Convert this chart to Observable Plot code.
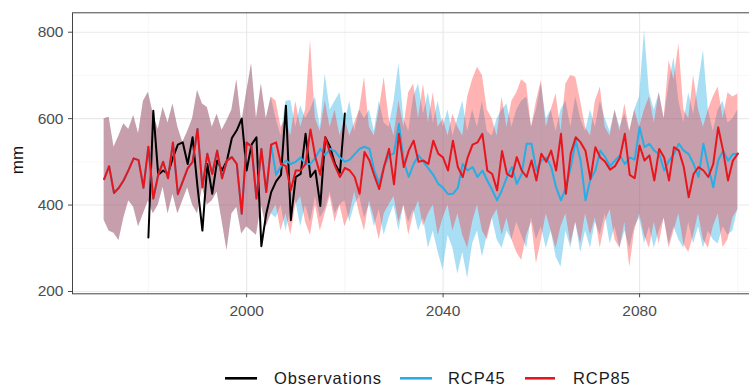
<!DOCTYPE html>
<html><head><meta charset="utf-8">
<script src="https://cdn.jsdelivr.net/npm/d3@7"></script>
<script src="https://cdn.jsdelivr.net/npm/@observablehq/plot@0.6"></script>
<style>
html,body{margin:0;padding:0;background:#fff;overflow:hidden;width:749px;height:385px;}
#wrap{position:relative;width:749px;height:385px;overflow:hidden;font-family:"Liberation Sans",Arial,sans-serif;}
#chart{position:absolute;left:0;top:0;width:775px;}
#chart svg{max-width:none !important;width:775px !important;height:340px !important;}
#legend{position:absolute;left:0;top:0;}
</style></head>
<body><div id="wrap"><div id="chart"></div><svg id="legend" width="749" height="385"></svg></div>
<script>
// ---- data ----
const histStart = 1971;           // shared historical run 1971-2005
const futStart = 2006;            // scenario runs 2006-2100
const obsStart = 1980;            // observations 1980-2020

const histMean = [460,490,428,440,458,482,508,504,440,535,415,470,500,462,545,425,455,485,500,576,441,519,472,526,462,503,511,495,380,545,535,415,530,430,540];
const histHi   = [600,603,534,560,588,575,607,565,640,661,610,575,626,590,634,580,545,570,600,665,634,626,580,610,573,595,620,690,590,660,727,600,680,600,650];
const histLo   = [365,340,335,318,370,410,395,350,380,410,380,400,441,380,425,380,410,440,400,380,440,400,410,430,364,295,380,395,333,350,340,330,400,350,380];

const rcp85Mean = [
  545,495,490,435,480,480,495,575,510,470,
  557,520,490,465,486,480,465,426,523,503,
  468,437,490,530,448,565,488,526,549,500,
  503,495,549,519,510,480,549,488,465,510,
  540,545,565,480,472,434,525,472,465,511,
  480,465,503,457,519,500,526,480,565,426,
  520,557,545,525,460,534,510,500,482,490,
  510,565,470,462,538,503,515,457,530,510,
  457,534,526,488,418,472,488,480,465,495,
  580,526,457,503,519];
const rcp85Hi = [
  640,580,600,560,640,580,620,781,600,570,
  640,580,620,560,600,560,590,620,696,580,
  560,620,696,600,560,640,580,660,680,600,
  680,590,660,580,600,560,610,580,560,650,
  690,719,700,620,600,560,650,580,640,660,
  690,680,580,640,688,580,620,657,570,680,
  700,696,640,580,560,640,673,580,560,620,
  570,634,570,620,580,620,650,590,660,600,
  734,690,773,620,600,700,620,580,620,650,
  673,600,660,650,657];
const rcp85Lo = [
  400,340,380,330,400,420,360,330,400,340,
  380,420,360,400,350,380,430,380,340,410,
  370,320,380,400,420,360,400,330,380,410,
  350,380,400,330,370,400,340,380,330,300,
  360,400,340,320,370,390,330,370,320,290,
  272,330,360,264,320,380,340,300,350,380,
  310,360,310,380,330,370,300,360,390,320,
  300,360,256,340,380,330,300,360,310,370,
  300,340,380,310,290,330,380,320,300,350,
  380,302,320,370,390];

const rcp45Mean = [
  470,490,503,495,500,510,495,495,510,530,
  515,530,525,510,500,505,518,530,535,530,
  480,450,490,515,520,588,500,465,495,515,
  500,485,470,449,440,425,426,440,495,480,
  488,465,480,457,435,411,435,465,488,449,
  472,542,542,480,503,510,488,441,411,441,
  488,549,503,411,460,480,526,511,490,503,
  515,495,510,505,580,534,542,526,518,480,
  503,518,542,526,518,495,465,542,488,441,
  503,526,503,518,519];
const rcp45Hi = [
  600,560,640,642,580,630,600,620,650,580,
  703,620,640,660,590,640,570,620,600,620,
  570,640,590,580,640,727,600,570,650,680,
  610,660,590,640,580,620,560,600,640,570,
  620,580,640,570,560,600,620,634,580,620,
  640,650,580,620,680,600,620,570,620,640,
  580,650,600,570,620,580,640,600,570,620,
  580,610,570,620,650,804,660,620,660,600,
  680,742,640,590,660,610,680,758,620,570,
  620,640,590,600,620];
const rcp45Lo = [
  370,400,340,390,410,350,400,360,420,370,
  390,430,380,400,410,360,400,420,370,400,
  350,390,330,370,400,340,400,360,390,340,
  370,300,340,290,250,330,300,240,290,230,
  310,340,280,330,370,320,300,340,320,360,
  330,300,370,320,350,300,340,280,256,340,
  300,360,290,340,300,360,330,380,310,350,
  300,340,300,350,370,310,350,300,340,370,
  310,350,320,300,360,310,350,300,340,320,
  310,350,330,340,390];

const obsValues = [325,618,470,480,472,510,540,545,495,557,442,341,495,426,503,480,503,555,573,600,480,540,557,305,380,430,455,470,630,365,465,472,565,465,480,398,557,534,495,475,612];

const xTicks = [2000, 2040, 2080];
const xMinor = [1980, 2020, 2060, 2100];
const yTicks = [200, 400, 600, 800];
const yMinor = [300, 500, 700];
const seriesNames = ["Observations", "RCP45", "RCP85"];
const seriesColors = ["#000000", "#27aee6", "#e8161c"];

// ---- build tables ----
function band(mean, lo, hi, start) {
  return mean.map((v, i) => ({year: start + i, mean: v, lo: lo[i], hi: hi[i]}));
}
const hist = band(histMean, histLo, histHi, histStart);
const r45 = hist.concat(band(rcp45Mean, rcp45Lo, rcp45Hi, futStart));
const r85 = hist.concat(band(rcp85Mean, rcp85Lo, rcp85Hi, futStart));
const obs = obsValues.map((v, i) => ({year: obsStart + i, value: v}));

const W = 775, H = 340;
const chart = Plot.plot({
  width: W, height: H,
  marginLeft: 72, marginRight: 6, marginTop: 12.3, marginBottom: 46.7,
  style: {fontFamily: '"Liberation Sans", Arial, sans-serif', fontSize: "15.5px", color: "#4d4d4d", background: "#fff"},
  x: {domain: [1964.55, 2106.45]},
  y: {domain: [194.7, 844.9]},
  marks: [
    Plot.ruleY(yMinor, {stroke: "#f3f3f3", strokeWidth: 0.7}),
    Plot.ruleX(xMinor, {stroke: "#f3f3f3", strokeWidth: 0.7}),
    Plot.ruleY(yTicks, {stroke: "#e9e9e9", strokeWidth: 1.1}),
    Plot.ruleX(xTicks, {stroke: "#e9e9e9", strokeWidth: 1.1}),
    Plot.areaY(r45, {x: "year", y1: "lo", y2: "hi", fill: seriesColors[1], fillOpacity: 0.4}),
    Plot.areaY(r85, {x: "year", y1: "lo", y2: "hi", fill: "#ff1f1f", fillOpacity: 0.34}),
    Plot.lineY(obs, {x: "year", y: "value", stroke: seriesColors[0], strokeWidth: 2}),
    Plot.lineY(r45, {x: "year", y: "mean", stroke: seriesColors[1], strokeWidth: 2}),
    Plot.lineY(r85, {x: "year", y: "mean", stroke: seriesColors[2], strokeWidth: 2}),
    Plot.frame({stroke: "#444", strokeWidth: 1}),
    Plot.axisX({ticks: xTicks, tickFormat: d => String(d), tickSize: 4, tickPadding: 7, label: null}),
    Plot.axisY({ticks: yTicks, tickSize: 4, tickPadding: 5, label: null})
  ]
});
chart.style.maxWidth = "none";
document.getElementById("chart").appendChild(chart);

// y-axis title
d3.select(chart).append("text")
  .attr("transform", "translate(23,160) rotate(-90)")
  .attr("text-anchor", "middle")
  .attr("fill", "#111")
  .style("font-size", "17px")
  .style("font-family", '"Liberation Sans", Arial, sans-serif')
  .text("mm");

// legend
const leg = d3.select("#legend");
const legLayout = [
  {x1: 225, x2: 257, tx: 274},
  {x1: 400, x2: 432, tx: 448},
  {x1: 525, x2: 555, tx: 573}
];
seriesNames.forEach((name, i) => {
  const L = legLayout[i];
  leg.append("line").attr("x1", L.x1).attr("x2", L.x2).attr("y1", 378.3).attr("y2", 378.3)
    .attr("stroke", seriesColors[i]).attr("stroke-width", 2.6);
  leg.append("text").attr("x", L.tx).attr("y", 383.5)
    .attr("fill", "#1a1a1a")
    .style("font-size", "16.5px").style("letter-spacing", "0.9px")
    .style("font-family", '"Liberation Sans", Arial, sans-serif')
    .text(name);
});
</script></body></html>
